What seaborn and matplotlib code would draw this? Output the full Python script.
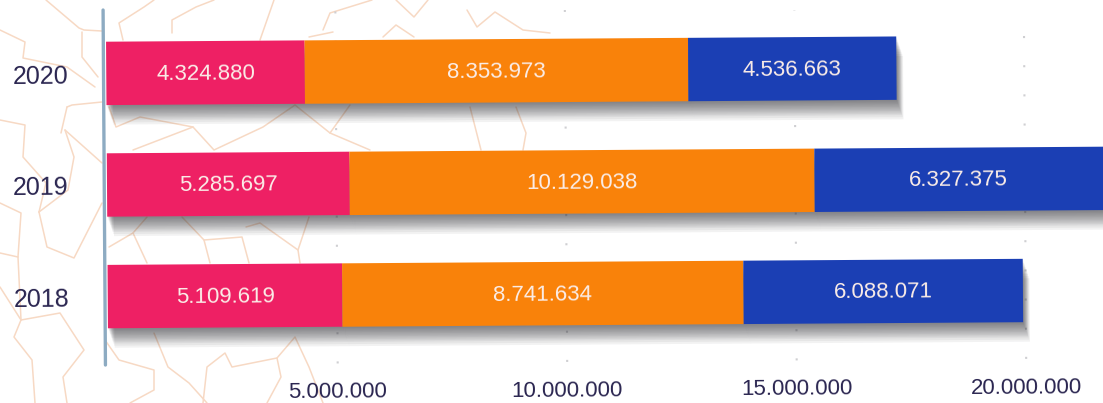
import matplotlib
matplotlib.use("Agg")
import matplotlib.pyplot as plt
import matplotlib.patheffects as pe
from matplotlib.transforms import Affine2D
import seaborn as sns
import pandas as pd

years = ["2020", "2019", "2018"]
red_values = [4324880, 5285697, 5109619]
orange_values = [8353973, 10129038, 8741634]
blue_values = [4536663, 6327375, 6088071]
x_ticks = [5000000, 10000000, 15000000, 20000000]
colors = ["#EE2064", "#F9820A", "#1B3FB4"]

# faint map behind the chart, traced in picture pixels
map_outlines = [
    [(46, 0), (79, 28), (84, 30), (102, 31)],
    [(0, 30), (25, 42), (23, 58), (67, 67), (95, 87)],
    [(82, 32), (82, 57), (98, 77)],
    [(0, 120), (25, 125), (23, 157), (46, 183), (39, 212)],
    [(65, 130), (102, 163)],
    [(65, 130), (74, 157), (68, 190), (39, 212)],
    [(67, 107), (72, 105), (102, 102)],
    [(67, 107), (61, 133)],
    [(0, 203), (21, 213), (18, 257), (0, 253)],
    [(39, 212), (47, 247), (74, 258), (102, 203)],
    [(18, 257), (21, 320), (14, 337), (32, 360), (35, 403)],
    [(0, 287), (21, 320)],
    [(21, 320), (60, 313), (84, 350), (63, 377), (67, 403)],
    [(105, 340), (119, 360), (154, 370), (154, 390), (130, 403)],
    [(154, 333), (168, 367), (189, 383), (207, 403)],
    [(203, 403), (207, 367), (225, 353), (232, 367), (277, 358), (281, 377), (267, 403)],
    [(277, 358), (295, 337), (309, 367), (323, 403)],
    [(109, 107), (116, 127), (140, 117), (193, 127), (214, 150), (263, 127), (295, 105), (330, 133), (350, 105)],
    [(330, 133), (370, 150)],
    [(470, 107), (481, 150)],
    [(516, 107), (526, 133), (523, 150)],
    [(133, 150), (193, 127)],
    [(109, 247), (133, 233), (147, 217)],
    [(133, 233), (147, 263)],
    [(182, 217), (204, 240), (210, 263)],
    [(204, 240), (242, 237), (249, 263)],
    [(246, 227), (260, 223), (298, 250), (309, 217)],
    [(298, 250), (300, 263)],
    [(123, 40), (119, 23), (144, 7), (154, 0)],
    [(172, 33), (172, 20), (196, 7), (214, 0)],
    [(260, 40), (274, 0)],
    [(323, 30), (330, 13), (372, 0)],
    [(383, 37), (396, 25), (414, 37)],
    [(467, 10), (477, 27), (495, 12), (523, 30), (550, 33)],
    [(309, 37), (333, 32)],
    [(396, 0), (414, 17), (428, 0)],
]

sns.set_theme(style="white")
plt.rcParams["font.family"] = ["Liberation Sans", "DejaVu Sans"]

fig = plt.figure(figsize=(11.03, 4.03), dpi=100)

bg = fig.add_axes([0, 0, 1, 1])
for outline in map_outlines:
    bg.plot([p[0] for p in outline], [p[1] for p in outline], color="#F7D9C4", lw=1.1)
bg.set_xlim(0, 1103)
bg.set_ylim(403, 0)
bg.axis("off")

ax = fig.add_axes([103.5 / 1103, 38 / 403, 1 - 103.5 / 1103, 355 / 403])
ax.patch.set_alpha(0)

# the page was scanned a little crooked
tilt = Affine2D().rotate_deg_around(107, 218, 0.38)

shadow = [
    pe.SimplePatchShadow(offset=(d * 0.35, -d), shadow_rgbFace="#2A2A30", alpha=0.06)
    for d in [14, 12.5, 11, 10, 9, 8, 7, 6, 5, 4, 3, 2, 1]
] + [pe.Normal()]

df = pd.DataFrame({"year": years, "red": red_values, "orange": orange_values, "blue": blue_values})
lefts = [0, 0, 0]
for col, color in zip(["red", "orange", "blue"], colors):
    sns.barplot(df, y="year", x=col, order=years, color=color, saturation=1, width=0.568,
                left=lefts, errorbar=None, orient="y", ax=ax, linewidth=0, zorder=3)
    lefts = [a + b for a, b in zip(lefts, df[col])]

ax.set_xlim((103.5 - 107) / 45.9 * 1e6, (1103 - 107) / 45.9 * 1e6)
ax.set_ylim(2.613, -0.568)
ax.set_xlabel("")
ax.set_ylabel("")
sns.despine(ax=ax, left=True, bottom=True)

for container, col in zip(ax.containers, ["red", "orange", "blue"]):
    for bar in container:
        bar.set_transform(ax.transData + tilt)
        bar.set_path_effects(shadow)
    labels = [f"{v:,}".replace(",", ".") for v in df[col]]
    texts = ax.bar_label(container, labels=labels, label_type="center", color="#FBEDE8",
                         fontsize=16, rotation=0.38, zorder=5)
    for text in texts:
        text.xyann = (0, -0.7)

ax.set_xticks(x_ticks, [f"{v:,}".replace(",", ".") for v in x_ticks])
ax.tick_params(axis="x", length=0, pad=13, labelsize=16, labelcolor="#2A2550")
ax.tick_params(axis="y", length=0, pad=25, labelsize=18, labelcolor="#2A2550")
for lab in ax.get_xticklabels() + ax.get_yticklabels():
    lab.set_transform(lab.get_transform() + tilt)
    lab.set_rotation(0.38)

ax.grid(axis="x", color="#CFCFD2", lw=1.5, ls=(0, (1, 13)))
ax.set_axisbelow(True)
for line in ax.get_xgridlines():
    line.set_transform(line.get_transform() + tilt)

ax_line, = ax.plot([-60000, -60000], [-0.568, 2.613], color="#8DABC2", lw=2.4, zorder=4, clip_on=False)
ax_line.set_transform(ax.transData + tilt)

fig.savefig("out.png", dpi=100)
